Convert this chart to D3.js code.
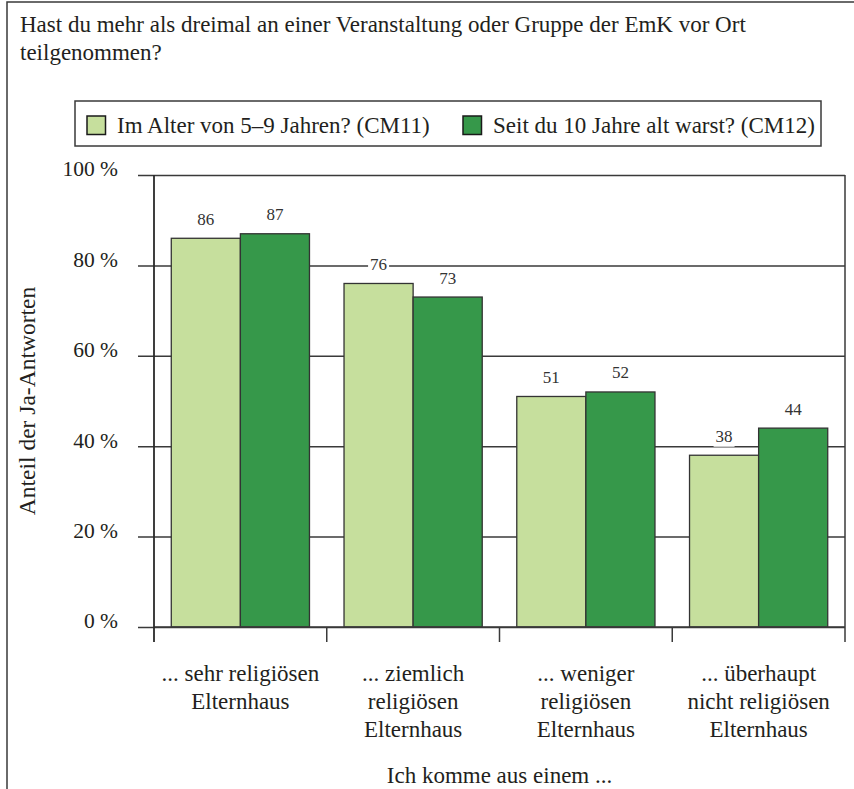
<!DOCTYPE html>
<html>
<head>
<meta charset="utf-8">
<script src="https://cdn.jsdelivr.net/npm/d3@7"></script>
<style>
  body { margin: 0; background: #fff; }
</style>
</head>
<body>
<div id="chart"></div>
<script>
// data
const titleLines = [
  "Hast du mehr als dreimal an einer Veranstaltung oder Gruppe der EmK vor Ort",
  "teilgenommen?"
];
const categories = ["sehr", "ziemlich", "weniger", "ueberhaupt"];
const categoryLabels = [
  ["... sehr religiösen", "Elternhaus"],
  ["... ziemlich", "religiösen", "Elternhaus"],
  ["... weniger", "religiösen", "Elternhaus"],
  ["... überhaupt", "nicht religiösen", "Elternhaus"]
];
const seriesNames = ["Im Alter von 5–9 Jahren? (CM11)", "Seit du 10 Jahre alt warst? (CM12)"];
const seriesKeys = ["CM11", "CM12"];
const valuesCM11 = [86, 76, 51, 38];
const valuesCM12 = [87, 73, 52, 44];
const yTicks = [0, 20, 40, 60, 80, 100];
const yTitle = "Anteil der Ja-Antworten";
const xTitle = "Ich komme aus einem ...";

const width = 854;
const height = 789;
const font = "'Times New Roman', 'Liberation Serif', serif";
const textColor = "#231f20";
const lineColor = "#3a3a3a";
const colors = { CM11: "#c6df9d", CM12: "#36984a" };
const labelSize = "23px";

const plot = { left: 154, right: 845, top: 175, bottom: 627 };

const svg = d3
  .select("#chart")
  .append("svg")
  .attr("width", width)
  .attr("height", height)
  .style("font-family", font)
  .style("fill", textColor);

// outer frame (runs off the right and bottom edge)
svg
  .append("rect")
  .attr("x", 7)
  .attr("y", 2)
  .attr("width", 900)
  .attr("height", 900)
  .attr("fill", "none")
  .attr("stroke", lineColor)
  .attr("stroke-width", 1.5);

// title
svg
  .append("g")
  .selectAll("text")
  .data(titleLines)
  .join("text")
  .attr("x", 20)
  .attr("y", (d, i) => 32 + i * 28)
  .style("font-size", labelSize)
  .text((d) => d);

// legend
const legend = svg.append("g");
legend
  .append("rect")
  .attr("x", 75)
  .attr("y", 101)
  .attr("width", 746)
  .attr("height", 45)
  .attr("fill", "#fff")
  .attr("stroke", lineColor)
  .attr("stroke-width", 1.5);
const legendX = [87, 463];
seriesKeys.forEach((key, i) => {
  legend
    .append("rect")
    .attr("x", legendX[i])
    .attr("y", 116)
    .attr("width", 18.5)
    .attr("height", 18.5)
    .attr("fill", colors[key])
    .attr("stroke", "#1a1a1a")
    .attr("stroke-width", 1.5);
  legend
    .append("text")
    .attr("x", legendX[i] + 30)
    .attr("y", 132.5)
    .style("font-size", labelSize)
    .text(seriesNames[i]);
});

// scales
const data = categories.map((c, i) => ({
  category: c,
  CM11: valuesCM11[i],
  CM12: valuesCM12[i]
}));

const x = d3.scaleBand().domain(categories).range([plot.left, plot.right]);
const xSub = d3
  .scaleBand()
  .domain(seriesKeys)
  .range([0, x.bandwidth()])
  .paddingInner(0)
  .paddingOuter(0.25);
const y = d3.scaleLinear().domain([0, 100]).range([plot.bottom, plot.top]);

const chart = svg.append("g");

// grid lines + tick marks (one line from the tick to the right border)
const grid = chart
  .append("g")
  .attr("transform", `translate(${plot.left}, 0)`)
  .call(
    d3
      .axisLeft(y)
      .tickValues(yTicks)
      .tickSize(16)
      .tickPadding(20)
      .tickFormat((d) => `${d} %`)
  );
grid.select(".domain").remove();
grid
  .selectAll(".tick line")
  .attr("x2", -16)
  .attr("x1", plot.right - plot.left)
  .attr("stroke", lineColor)
  .attr("stroke-width", 1.5);
grid
  .selectAll(".tick text")
  .attr("dy", "0.04em")
  .style("font-family", font)
  .style("font-size", "21.5px")
  .style("fill", textColor);

// right border
chart
  .append("line")
  .attr("x1", plot.right)
  .attr("x2", plot.right)
  .attr("y1", plot.top)
  .attr("y2", plot.bottom + 15)
  .attr("stroke", lineColor)
  .attr("stroke-width", 1.5);

// bars
const groups = chart
  .selectAll(".group")
  .data(data)
  .join("g")
  .attr("transform", (d) => `translate(${x(d.category)}, 0)`);

groups
  .selectAll("rect")
  .data((d) => seriesKeys.map((key) => ({ key, value: d[key] })))
  .join("rect")
  .attr("x", (d) => xSub(d.key))
  .attr("y", (d) => y(d.value))
  .attr("width", xSub.bandwidth())
  .attr("height", (d) => y(0) - y(d.value))
  .attr("fill", (d) => colors[d.key])
  .attr("stroke", "#333")
  .attr("stroke-width", 1.3);

// value labels with white background so they cut the grid lines
const labels = groups
  .selectAll(".value")
  .data((d) => seriesKeys.map((key) => ({ key, value: d[key] })))
  .join("g")
  .attr(
    "transform",
    (d) => `translate(${xSub(d.key) + xSub.bandwidth() / 2}, ${y(d.value) - 13.5})`
  );
labels
  .append("rect")
  .attr("x", -10.5)
  .attr("y", -13)
  .attr("width", 21)
  .attr("height", 18)
  .attr("fill", "#fff");
labels
  .append("text")
  .attr("text-anchor", "middle")
  .style("font-size", "17px")
  .style("fill", "#333")
  .text((d) => d.value);

// x axis line and category boundary ticks
chart
  .append("line")
  .attr("x1", plot.left)
  .attr("x2", plot.right)
  .attr("y1", plot.bottom)
  .attr("y2", plot.bottom)
  .attr("stroke", lineColor)
  .attr("stroke-width", 1.5);
chart
  .selectAll(".xtick")
  .data(categories.slice(1))
  .join("line")
  .attr("x1", (d) => x(d))
  .attr("x2", (d) => x(d))
  .attr("y1", plot.bottom)
  .attr("y2", plot.bottom + 15)
  .attr("stroke", lineColor)
  .attr("stroke-width", 1.5);

// y axis line
chart
  .append("line")
  .attr("x1", plot.left)
  .attr("x2", plot.left)
  .attr("y1", plot.top)
  .attr("y2", plot.bottom + 15)
  .attr("stroke", "#2a2a2a")
  .attr("stroke-width", 1.8);

// category labels
chart
  .selectAll(".catlabel")
  .data(categories)
  .join("text")
  .attr("text-anchor", "middle")
  .style("font-size", labelSize)
  .each(function (d, i) {
    d3.select(this)
      .selectAll("tspan")
      .data(categoryLabels[i])
      .join("tspan")
      .attr("x", x(d) + x.bandwidth() / 2)
      .attr("y", (line, j) => plot.bottom + 54 + j * 28)
      .text((line) => line);
  });

// axis titles
svg
  .append("text")
  .attr("transform", `translate(35, ${(plot.top + plot.bottom) / 2}) rotate(-90)`)
  .attr("text-anchor", "middle")
  .style("font-size", "23.5px")
  .text(yTitle);

svg
  .append("text")
  .attr("x", (plot.left + plot.right) / 2)
  .attr("y", 783)
  .attr("text-anchor", "middle")
  .style("font-size", labelSize)
  .text(xTitle);
</script>
</body>
</html>
